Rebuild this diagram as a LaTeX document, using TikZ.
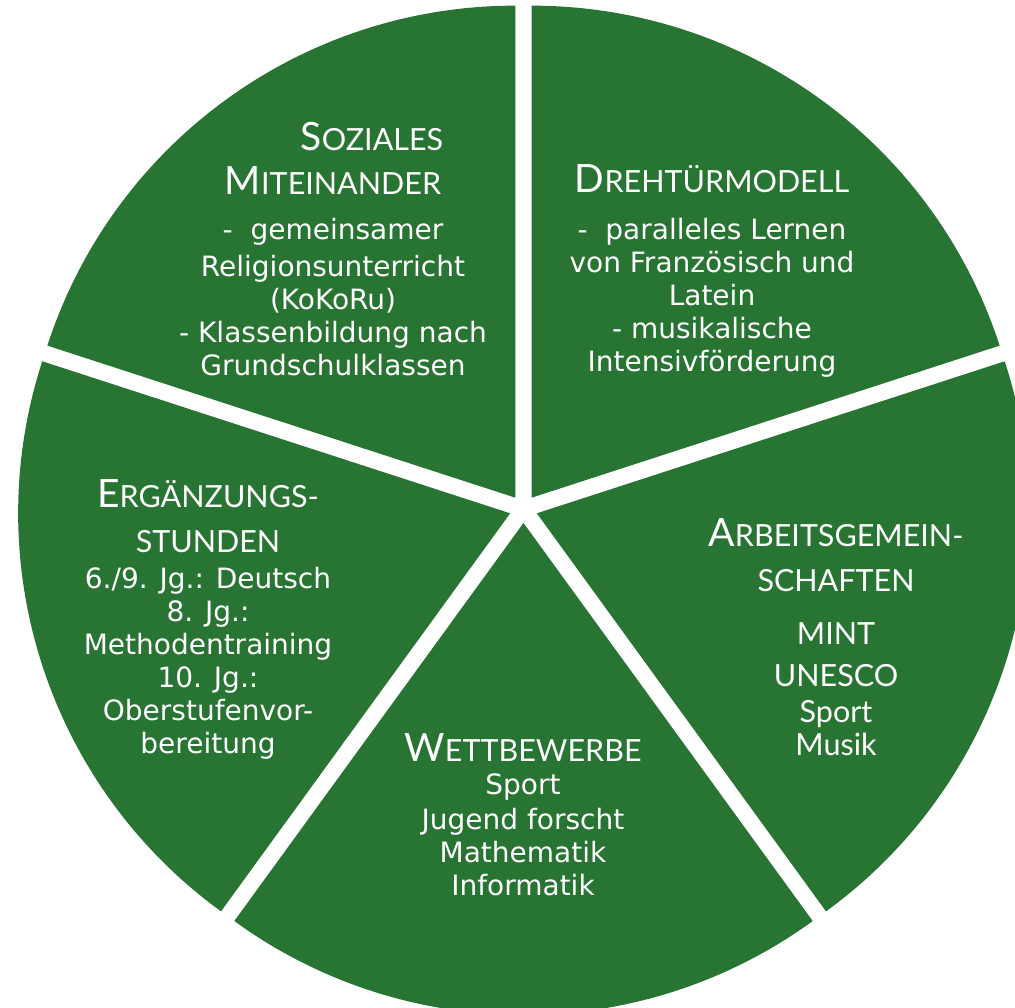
\documentclass[tikz,border=0pt]{standalone}
\usepackage{fontspec}
\setmainfont{DejaVu Sans}
\newfontfamily\headfont{Lato}
\usepackage{tikz}
\definecolor{piegreen}{RGB}{40,116,51}
\newcommand{\sckap}[2]{{\headfont\fontsize{39}{44}\selectfont #1}{\headfont\fontsize{30.5}{44}\selectfont #2}}
\newcommand{\agitem}[1]{{\headfont\fontsize{30.5}{33}\selectfont #1}}
\tikzset{
	piece/.style={fill=piegreen},
	block/.style={text=white, align=center, anchor=north, inner sep=0pt, font=\fontsize{28}{33}\selectfont}
}

\begin{document}
\begin{tikzpicture}[x=1pt, y=1pt]
		%%%%% START %%%%%
		
		\useasboundingbox (0, 0) rectangle (1015, 1008);
		\clip (0, 0) rectangle (1015, 1008);
		
		\begin{scope}[shift={(523.5, 499)}]
			\foreach \a in {54, 126, 198, 270, 342}
				\fill[piece] (\a:14pt) -- ++(\a-36:492pt) arc[start angle=\a-36, end angle=\a+36, radius=492pt] -- cycle;
		\end{scope}
		
		\node[block] (soz) at (333, 886) {\hspace*{78pt}\sckap{S}{OZIALES}\\[11pt]
			\sckap{M}{ITEINANDER}\\[12pt]
			- \ gemeinsamer\\[4pt]
			Religionsunterricht\\
			(KoKoRu)\\
			- Klassenbildung nach\\
			Grundschulklassen};
		
		\node[block] (dreh) at (712, 844) {\sckap{D}{REHTÜRMODELL}\\[14pt]
			- \ paralleles Lernen\\
			von Französisch und\\
			Latein\\
			- musikalische\\
			Intensivförderung};
		
		\node[block] (erg) at (208, 529) {\sckap{E}{RGÄNZUNGS-}\\[12pt]
			\sckap{}{STUNDEN}\\[3pt]
			6./9. Jg.: Deutsch\\
			8. Jg.:\\
			Methodentraining\\
			10. Jg.:\\
			Oberstufenvor-\\
			bereitung};
		
		\node[block] (ag) at (836, 490) {\sckap{A}{RBEITSGEMEIN-}\\[12pt]
			\sckap{}{SCHAFTEN}\\[20pt]
			\agitem{MINT}\\[9pt]
			\agitem{UNESCO}\\[3pt]
			\agitem{Sport}\\
			\agitem{Musik}};
		
		\node[block] (wett) at (523, 275) {\sckap{W}{ETTBEWERBE}\\
			Sport\\[2pt]
			Jugend forscht\\
			Mathematik\\
			Informatik};
		
		%%%%% END %%%%%
	\end{tikzpicture}
\end{document}
